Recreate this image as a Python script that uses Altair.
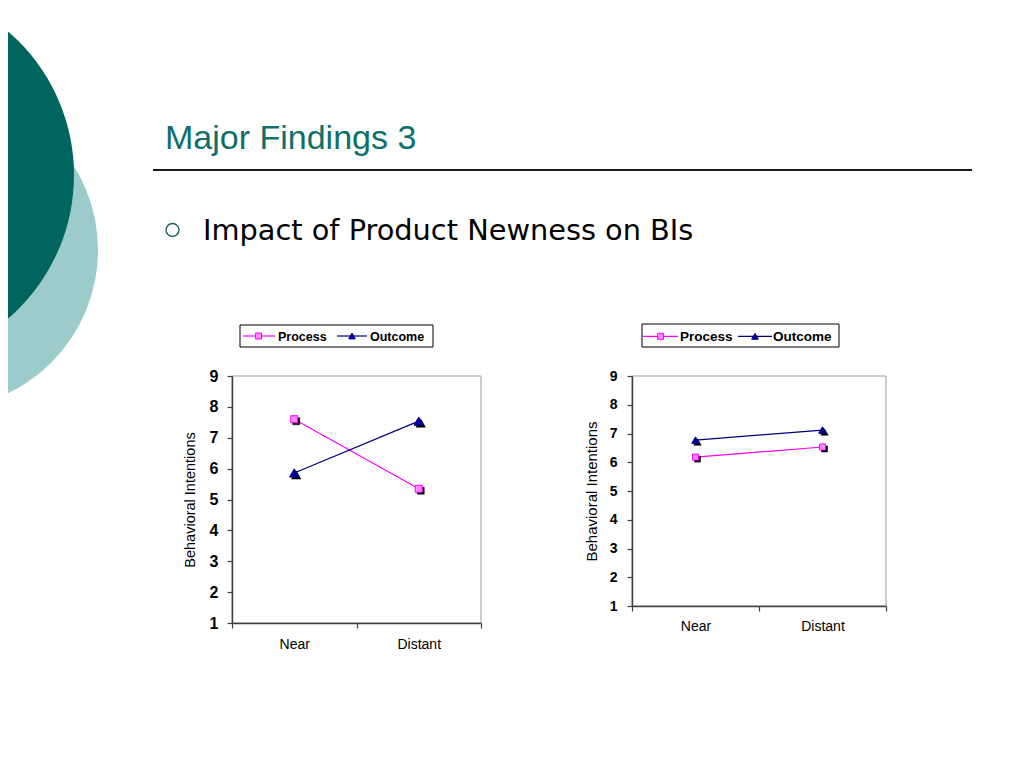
import altair as alt
import pandas as pd

# ---------------- data ----------------
conditions = ["Near", "Distant"]
series_names = ["Process", "Outcome"]
left_process = [7.6, 5.35]
left_outcome = [5.86, 7.54]
right_process = [6.18, 6.53]
right_outcome = [6.77, 7.12]
y_ticks = [1, 2, 3, 4, 5, 6, 7, 8, 9]
y_domain = [1, 9]
slide_title = "Major Findings 3"
bullet_text = "Impact of Product Newness on BIs"
y_title = "Behavioral Intentions"

# ---------------- layout helpers ----------------
W, H = 1000, 750
OX, OY = 8, 8  # page margin
ARIAL = "Liberation Sans"
TEAL = "#0f6f6a"
AXIS_COLOR = "#404040"


def px(x):
    return x - OX


def py(y):
    return y - OY


STYLE = {
    "Process": dict(line="#ff00ff", shape="square", fill="#ff88ff", stroke="#ff00ff"),
    "Outcome": dict(line="#000080", shape="triangle-up", fill="#0000a0", stroke="#000080"),
}


def long_df(process, outcome):
    rows = []
    for s, vals in zip(series_names, [process, outcome]):
        for c, v in zip(conditions, vals):
            rows.append({"series": s, "condition": c, "value": v})
    return pd.DataFrame(rows)


def panel(df, x0, x1, ytop, ybot, tick_font, label_font, ytitle_font,
          ytitle_x, ylabel_pad, xlabel_pad, sizes):
    xs = alt.Scale(type="band", domain=conditions, range=[px(x0), px(x1)],
                   paddingInner=0, paddingOuter=0)
    ys = alt.Scale(domain=y_domain, range=[py(ybot), py(ytop)], nice=False, zero=False)
    x_axis = alt.Axis(orient="bottom", offset=py(ybot) - H, tickBand="extent", title=None,
                      labelFont=ARIAL, labelFontSize=label_font, labelColor="black",
                      labelPadding=xlabel_pad, labelAngle=0, tickSize=5,
                      domainColor=AXIS_COLOR, tickColor=AXIS_COLOR, domainWidth=1.5,
                      tickWidth=1.2, grid=False, zindex=1)
    y_axis = alt.Axis(orient="left", offset=-px(x0), values=y_ticks, title=y_title,
                      titleFont=ARIAL, titleFontSize=ytitle_font, titleFontWeight="normal",
                      titleColor="black", titleX=ytitle_x, titleBaseline="middle",
                      labelFont=ARIAL, labelFontSize=tick_font, labelFontWeight="bold",
                      labelColor="black", labelPadding=ylabel_pad, tickSize=5,
                      domainColor=AXIS_COLOR, tickColor=AXIS_COLOR, domainWidth=1.5,
                      tickWidth=1.2, grid=False, zindex=1, labelOverlap=False)
    xe = alt.X("condition:N", scale=xs, sort=conditions, bandPosition=0.5, axis=x_axis)
    ye = alt.Y("value:Q", scale=ys, axis=y_axis)
    base = alt.Chart(df)
    layers = []
    for s in series_names:
        st = STYLE[s]
        sub = base.transform_filter(alt.datum.series == s)
        layers.append(sub.mark_line(color=st["line"], strokeWidth=1.2).encode(x=xe, y=ye))
        layers.append(sub.mark_point(shape=st["shape"], filled=True, fill="black",
                                     stroke="black", strokeWidth=0.5, size=sizes[s],
                                     opacity=1, xOffset=2, yOffset=2).encode(x=xe, y=ye))
        layers.append(sub.mark_point(shape=st["shape"], filled=True, fill=st["fill"],
                                     stroke=st["stroke"], strokeWidth=1, size=sizes[s],
                                     opacity=1).encode(x=xe, y=ye))
    return alt.layer(*layers)


def frame(x0, x1, ytop, ybot):
    return alt.Chart(pd.DataFrame({"k": [0]})).mark_rect(
        fillOpacity=0, stroke="#9a9a9a", strokeWidth=1).encode(
        x=alt.value(px(x0)), x2=alt.value(px(x1)),
        y=alt.value(py(ytop)), y2=alt.value(py(ybot)))


def legend(box, line_y, items, font_size, marker_sizes):
    empty = pd.DataFrame({"k": [0]})
    b = alt.Chart(empty)
    out = [b.mark_rect(fill="white", stroke="black", strokeWidth=1).encode(
        x=alt.value(px(box[0])), x2=alt.value(px(box[2])),
        y=alt.value(py(box[1])), y2=alt.value(py(box[3])))]
    for name, (lx0, lx1, mx, tx) in zip(series_names, items):
        st = STYLE[name]
        out.append(b.mark_rule(color=st["line"], strokeWidth=1.2).encode(
            x=alt.value(px(lx0)), x2=alt.value(px(lx1)), y=alt.value(py(line_y))))
        out.append(b.mark_point(shape=st["shape"], filled=True, fill=st["fill"],
                                stroke=st["stroke"], strokeWidth=1, opacity=1,
                                size=marker_sizes[name]).encode(
            x=alt.value(px(mx)), y=alt.value(py(line_y))))
        out.append(b.mark_text(align="left", baseline="middle", font=ARIAL,
                               fontSize=font_size, fontWeight="bold", color="black").encode(
            x=alt.value(px(tx)), y=alt.value(py(line_y + 0.5)), text=alt.value(name)))
    return out


# ---------------- decorations ----------------
one = pd.DataFrame({"k": [0]})
d = alt.Chart(one)
deco = [
    d.mark_circle(color="#9ccbcc", opacity=1).encode(
        x=alt.value(px(-61)), y=alt.value(py(250)), size=alt.value((2 * 159) ** 2)),
    d.mark_circle(color="#00655f", opacity=1).encode(
        x=alt.value(px(-115)), y=alt.value(py(175)), size=alt.value((2 * 189) ** 2)),
    d.mark_text(align="left", baseline="alphabetic", font=ARIAL, fontSize=34,
                color=TEAL).encode(
        x=alt.value(px(165)), y=alt.value(py(149)), text=alt.value(slide_title)),
    d.mark_rule(color="#1a1a1a", strokeWidth=2).encode(
        x=alt.value(px(153)), x2=alt.value(px(972)), y=alt.value(py(170))),
    d.mark_point(shape="circle", filled=False, stroke="#1d5f5b", strokeWidth=1.4,
                 size=169, opacity=1).encode(x=alt.value(px(172.5)), y=alt.value(py(230))),
    d.mark_text(align="left", baseline="alphabetic", font="DejaVu Sans", fontSize=28.8,
                color="black").encode(
        x=alt.value(px(203)), y=alt.value(py(240)), text=alt.value(bullet_text)),
    frame(232, 481, 376, 623),
    frame(632, 886, 376, 606),
]

deco += legend((240, 325, 433, 347), 336,
               [(243, 275, 258.5, 278), (337, 367, 352, 370)], 12.5,
               {"Process": 36, "Outcome": 45})
deco += legend((642, 324, 839, 347), 336.3,
               [(643, 678, 660.5, 680), (738, 772, 755, 773)], 13.5,
               {"Process": 36, "Outcome": 45})

left = panel(long_df(left_process, left_outcome), 232, 481, 376, 623,
             16, 14, 14.5, -42, 9, 9, {"Process": 49, "Outcome": 90})
right = panel(long_df(right_process, right_outcome), 632, 886, 376, 606,
              14, 14, 15, -41, 10, 8, {"Process": 36, "Outcome": 56})

chart = alt.layer(*deco, left, right).resolve_scale(
    x="independent", y="independent"
).properties(
    width=W, height=H, padding=0, autosize=alt.AutoSizeParams(type="none")
).configure(font=ARIAL, background="white").configure_view(
    stroke="transparent", strokeWidth=0)

chart.save("out.html", embed_options={"renderer": "svg", "actions": False})
